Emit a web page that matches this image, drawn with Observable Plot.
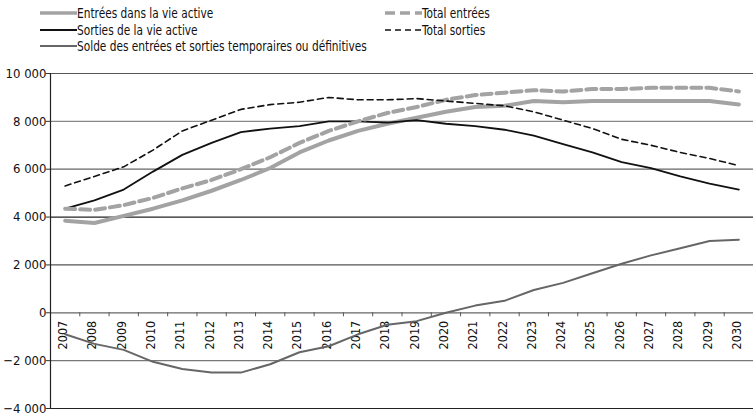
<!DOCTYPE html>
<html>
<head>
<meta charset="utf-8">
<script src="https://cdn.jsdelivr.net/npm/d3@7"></script>
<script src="https://cdn.jsdelivr.net/npm/@observablehq/plot@0.6"></script>
<style>
  html, body { margin: 0; padding: 0; background: #fff; }
  body { width: 753px; height: 418px; overflow: hidden; font-family: "DejaVu Sans Condensed", "Liberation Sans", sans-serif; }
  #legend { position: relative; height: 56px; font-size: 14px; color: #111; }
  .item { position: absolute; display: flex; align-items: center; white-space: nowrap; line-height: 16px; }
  .item span { display: inline-block; transform: scaleX(0.84); transform-origin: 0 50%; }
</style>
</head>
<body>
<div id="legend"></div>
<div id="chart"></div>
<script>
const years = [2007,2008,2009,2010,2011,2012,2013,2014,2015,2016,2017,2018,2019,2020,2021,2022,2023,2024,2025,2026,2027,2028,2029,2030];
const entrees      = [3850,3750,4050,4350,4700,5100,5550,6050,6700,7200,7600,7900,8150,8400,8600,8650,8850,8800,8850,8850,8850,8850,8850,8700];
const totalEntrees = [4350,4300,4500,4800,5200,5550,6000,6500,7100,7600,8000,8350,8600,8900,9100,9200,9300,9250,9350,9350,9400,9400,9400,9250];
const sorties      = [4350,4700,5150,5900,6600,7100,7550,7700,7800,8000,8000,7950,8050,7900,7800,7650,7400,7050,6700,6300,6050,5700,5400,5150];
const totalSorties = [5300,5700,6100,6800,7600,8050,8500,8700,8800,9000,8900,8900,8950,8850,8750,8650,8400,8050,7700,7250,7000,6700,6450,6150];
const solde        = [-900,-1300,-1550,-2050,-2350,-2500,-2500,-2150,-1650,-1400,-900,-500,-350,0,300,500,950,1250,1650,2050,2400,2700,3000,3050];
const yTicks = [10000,8000,6000,4000,2000,0,-2000,-4000];
const gridColors = ["#555","#888","#666","#222","#555","#666","#777","#222"];
const seriesNames = ["Entrées dans la vie active","Sorties de la vie active","Solde des entrées et sorties temporaires ou définitives","Total entrées","Total sorties"];

const styles = {
  "Entrées dans la vie active": {stroke: "#a3a3a3", strokeWidth: 4, dash: null},
  "Sorties de la vie active": {stroke: "#111", strokeWidth: 1.8, dash: null},
  "Solde des entrées et sorties temporaires ou définitives": {stroke: "#666", strokeWidth: 2, dash: null},
  "Total entrées": {stroke: "#a3a3a3", strokeWidth: 4, dash: "10,5"},
  "Total sorties": {stroke: "#111", strokeWidth: 1.6, dash: "6,4"}
};
const seriesData = {
  "Entrées dans la vie active": entrees,
  "Sorties de la vie active": sorties,
  "Solde des entrées et sorties temporaires ou définitives": solde,
  "Total entrées": totalEntrees,
  "Total sorties": totalSorties
};

// legend
const legendPos = [[40,5],[40,22],[40,38],[385,5],[385,22]];
const legend = document.getElementById("legend");
seriesNames.forEach((name, i) => {
  const s = styles[name];
  const div = document.createElement("div");
  div.className = "item";
  div.style.left = legendPos[i][0] + "px";
  div.style.top = legendPos[i][1] + "px";
  const w = 37;
  div.innerHTML = `<svg width="${w}" height="8"><line x1="0" x2="${w}" y1="4" y2="4" stroke="${s.stroke}" stroke-width="${Math.min(s.strokeWidth,3.5)}" ${s.dash ? `stroke-dasharray="${s.dash}"` : ""}/></svg><span>${name}</span>`;
  legend.appendChild(div);
});

const rows = [];
for (const name of seriesNames) {
  seriesData[name].forEach((v, i) => rows.push({series: name, year: years[i], value: v}));
}
const boundaries = years.map(y => y + 0.5);
const x0 = years[0] - 0.5;
const fmt = d => d3.format(",")(d).replace(/,/g, "\u00a0");

const marks = [
  Plot.ruleY(yTicks, {stroke: (d, i) => gridColors[i], strokeWidth: 1.2}),
  Plot.ruleX([x0], {stroke: "#222", strokeWidth: 1.2}),
  Plot.ruleY(yTicks, {x1: x0, x2: x0, stroke: "#333", strokeWidth: 1, insetLeft: -4}),
  Plot.ruleX(boundaries, {y1: 0, y2: 0, stroke: "#555", strokeWidth: 1, insetBottom: -4}),
  Plot.text(yTicks, {x: x0, y: d => d, text: fmt, textAnchor: "end", dx: -4, fontSize: 13, fill: "#111"}),
  Plot.text(years, {x: d => d, y: 0, text: d => String(d), rotate: -90, textAnchor: "end", dy: 8, dx: -2, fontSize: 12.5, fill: "#111"})
];
for (const name of seriesNames) {
  const s = styles[name];
  marks.push(Plot.line(rows.filter(r => r.series === name), {
    x: "year", y: "value", stroke: s.stroke, strokeWidth: s.strokeWidth,
    strokeDasharray: s.dash || undefined, curve: "linear"
  }));
}

const chart = Plot.plot({
  width: 753,
  height: 362,
  marginTop: 17,
  marginBottom: 10,
  marginLeft: 50,
  marginRight: 0,
  style: {fontFamily: '"DejaVu Sans Condensed", "Liberation Sans", sans-serif', background: "#fff", overflow: "visible"},
  x: {type: "linear", domain: [x0, years[years.length - 1] + 0.5], axis: null},
  y: {domain: [-4000, 10000], axis: null},
  marks
});
document.getElementById("chart").appendChild(chart);
</script>
</body>
</html>
